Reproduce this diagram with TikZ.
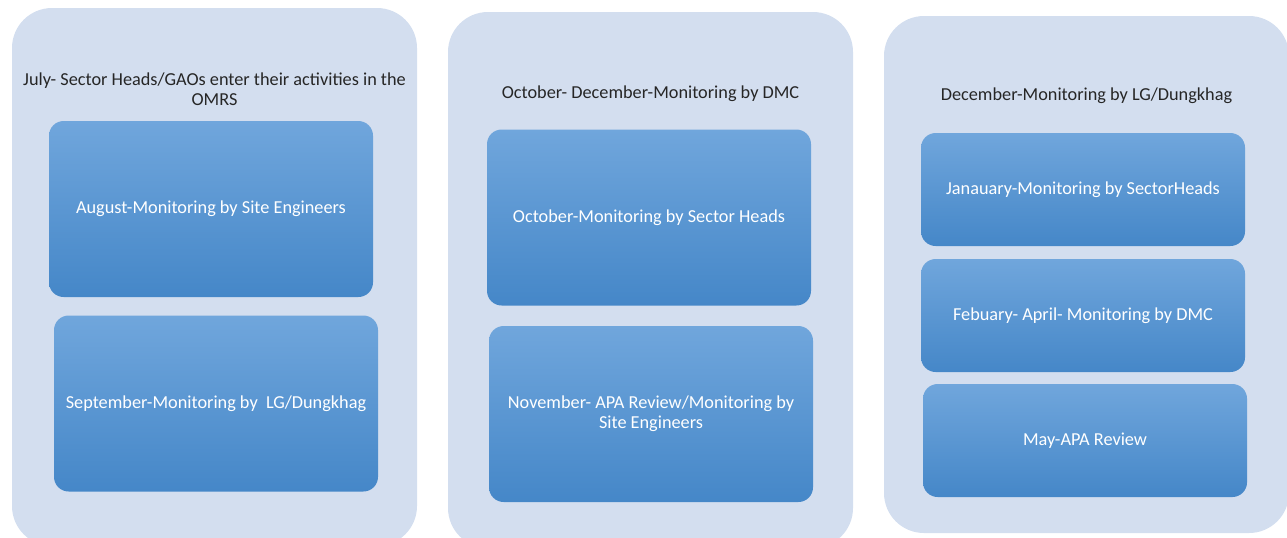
\documentclass[tikz,border=0pt]{standalone}
\usepackage{fontspec}
\setmainfont{Carlito}
\usepackage{tikz}
\usetikzlibrary{positioning,backgrounds}

\definecolor{panelfill}{HTML}{D3DEEF}
\definecolor{boxtop}{HTML}{70A6DC}
\definecolor{boxmid}{HTML}{5B9CDB}
\definecolor{boxbot}{HTML}{4587C8}
\definecolor{titletext}{HTML}{262626}

\begin{document}
\begin{tikzpicture}
	[x=0.75pt, y=-0.75pt, inner sep=0pt,
	stage/.style	= {rectangle, fill=panelfill, rounded corners=30pt, minimum width=303.75pt},
	stagetitle/.style	= {text=titletext, align=center, font=\fontsize{13.7}{15}\selectfont},
	task/.style		= {rectangle, rounded corners=11pt, top color=boxtop, middle color=boxmid, bottom color=boxbot,
						text=white, align=center, minimum width=243pt, font=\fontsize{13.7}{15}\selectfont},
	tall/.style		= {minimum height=132pt},
	short/.style	= {minimum height=84.75pt}]

	\useasboundingbox (0,0) rectangle (1287,537);

	% the three stages
	\node [stage, minimum height=403.5pt]	at (214.5,277)	(s1) {};
	\node [stage, minimum height=402pt]		at (650.5,280)	(s2) {};
	\node [stage, minimum height=387.75pt]	at (1086.5,274.5)	(s3) {};

	\node [stagetitle] at (214.5,89)	(t1) {July- Sector Heads/GAOs enter their activities in the\\OMRS};
	\node [stagetitle] at (650.5,93.5)	(t2) {October- December-Monitoring by DMC};
	\node [stagetitle] at (1086.5,95.5)	(t3) {December-Monitoring by LG/Dungkhag};

	% first stage
	\node [task, tall]	at (211,209)	(aug)	{August-Monitoring by Site Engineers};
	\node [task, tall]	at (216,403.5)	(sep)	{September-Monitoring by\ \ LG/Dungkhag};

	% second stage
	\node [task, tall]	at (649,217.5)	(oct)	{October-Monitoring by Sector Heads};
	\node [task, tall]	at (651,414)	(nov)	{November- APA Review/Monitoring by\\Site Engineers};

	% third stage
	\node [task, short]	at (1083,189.5)	(jan)	{Janauary-Monitoring by SectorHeads};
	\node [task, short]	at (1083,315.5)	(feb)	{Febuary- April- Monitoring by DMC};
	\node [task, short]	at (1085,440.5)	(may)	{May-APA Review};
\end{tikzpicture}
\end{document}
